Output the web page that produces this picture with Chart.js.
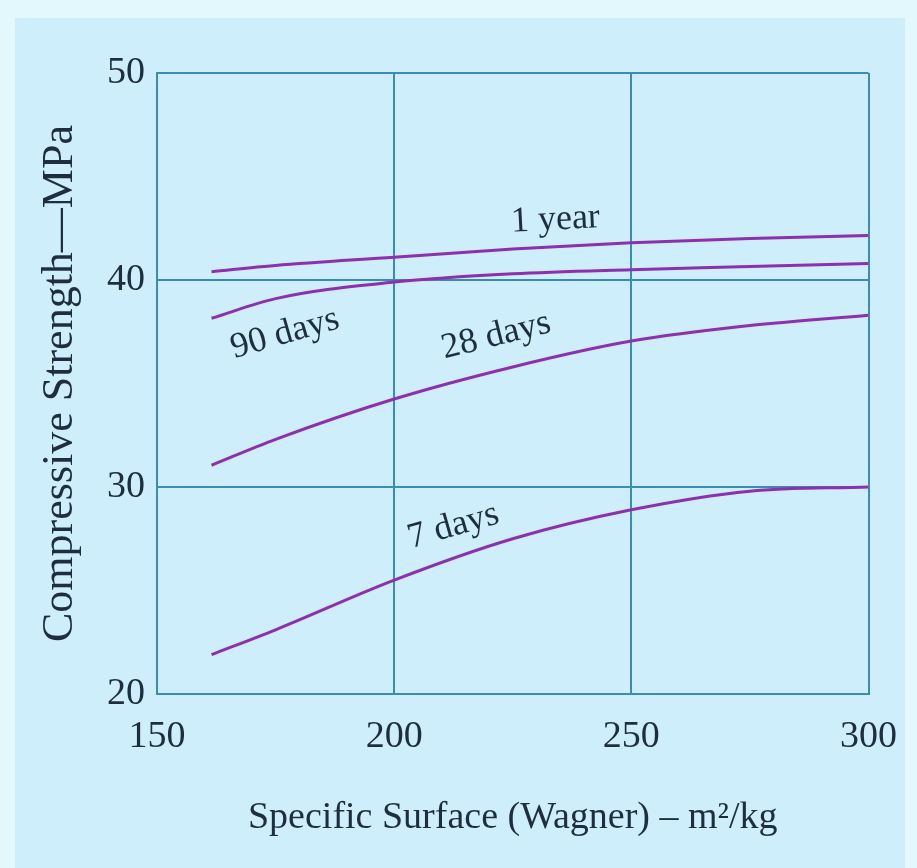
<!DOCTYPE html>
<html>
<head>
<meta charset="utf-8">
<script src="https://cdn.jsdelivr.net/npm/chart.js@4.4.1/dist/chart.umd.min.js"></script>
<style>
  html, body { margin: 0; padding: 0; background: #e3f8fc; }
  #marco { position: relative; width: 917px; height: 868px; overflow: hidden; }
  #panel { position: absolute; left: 15px; top: 18px; width: 890px; height: 850px; background: #cdeefa; }
  #grafico { position: absolute; left: 0; top: 0; }
</style>
</head>
<body>
<div id="marco">
  <div id="panel"></div>
  <canvas id="grafico" width="917" height="868"></canvas>
</div>
<script>
// Superficie específica (Wagner) - m2/kg
const superficie = [161.5, 175, 200, 225, 250, 275, 300];

// Resistencia a compresión (MPa) por edad
const unAnio   = [40.4, 40.7, 41.1, 41.5, 41.8, 42.0, 42.15];
const dias90   = [38.15, 39.1, 39.9, 40.3, 40.5, 40.65, 40.8];
const dias28   = [31.05, 32.3, 34.25, 35.8, 37.05, 37.8, 38.3];
const dias7    = [21.9, 23.1, 25.5, 27.5, 28.9, 29.8, 30.0];

// Etiquetas de curvas (texto y punto de anclaje en unidades de datos)
const etiquetas = [
    { texto: '1 year',  x: 234,   y: 42.9 },
    { texto: '90 days', x: 177,   y: 37.4 },
    { texto: '28 days', x: 221.5, y: 37.3 },
    { texto: '7 days',  x: 212.5, y: 28.1 }
];
const angulos = [-3, -16, -14, -16];

const colorLinea = '#8e2fae';
const colorGrid  = '#3a8db0';
const colorTexto = '#1f2d42';
const fuente     = "'Liberation Serif', 'DejaVu Serif', serif";

function puntos(valores){
    return superficie.map((s, i) => ({ x: s, y: valores[i] }));
}

function serie(nombre, valores){
    return {
        label: nombre,
        data: puntos(valores),
        borderColor: colorLinea,
        borderWidth: 3,
        pointRadius: 0,
        fill: false,
        cubicInterpolationMode: 'monotone'
    };
}

// Dibuja los nombres de las curvas sobre el área del gráfico
const pluginEtiquetas = {
    id: 'etiquetasCurvas',
    afterDatasetsDraw(chart){
        const ctx = chart.ctx;
        const sx = chart.scales.x, sy = chart.scales.y;
        ctx.save();
        ctx.fillStyle = colorTexto;
        ctx.font = "36px " + fuente;
        ctx.textAlign = 'center';
        ctx.textBaseline = 'middle';
        etiquetas.forEach((e, i) => {
            ctx.save();
            ctx.translate(sx.getPixelForValue(e.x), sy.getPixelForValue(e.y));
            ctx.rotate(angulos[i] * Math.PI / 180);
            ctx.fillText(e.texto, 0, 0);
            ctx.restore();
        });
        ctx.restore();
    }
};

window.chartResistencia = new Chart(document.getElementById('grafico'), {
    type: 'line',
    data: {
        datasets: [
            serie('1 year', unAnio),
            serie('90 days', dias90),
            serie('28 days', dias28),
            serie('7 days', dias7)
        ]
    },
    options: {
        responsive: false,
        animation: false,
        layout: { padding: { top: 73, right: 46, left: 0, bottom: 0 } },
        plugins: {
            legend:  { display: false },
            tooltip: { enabled: false }
        },
        scales: {
            x: {
                type: 'linear',
                min: 150,
                max: 300,
                afterFit: s => { s.height = 174; },
                ticks: {
                    stepSize: 50,
                    color: colorTexto,
                    padding: 20,
                    font: { family: fuente, size: 38 }
                },
                grid:   { color: colorGrid, lineWidth: 2, drawTicks: false },
                border: { color: colorGrid, width: 2 },
                title: {
                    display: true,
                    text: 'Specific Surface (Wagner) – m²/kg',
                    color: colorTexto,
                    font: { family: fuente, size: 38 },
                    padding: { top: 0, bottom: 27 }
                }
            },
            y: {
                min: 20,
                max: 50,
                afterFit: s => { s.width = 157; },
                ticks: {
                    stepSize: 10,
                    color: colorTexto,
                    padding: 12,
                    font: { family: fuente, size: 38 }
                },
                grid:   { color: colorGrid, lineWidth: 2, drawTicks: false },
                border: { color: colorGrid, width: 2 },
                title: {
                    display: true,
                    text: 'Compressive Strength—MPa',
                    color: colorTexto,
                    font: { family: fuente, size: 44 },
                    padding: { top: 34, bottom: 0 }
                }
            }
        }
    },
    plugins: [pluginEtiquetas]
});
</script>
</body>
</html>
